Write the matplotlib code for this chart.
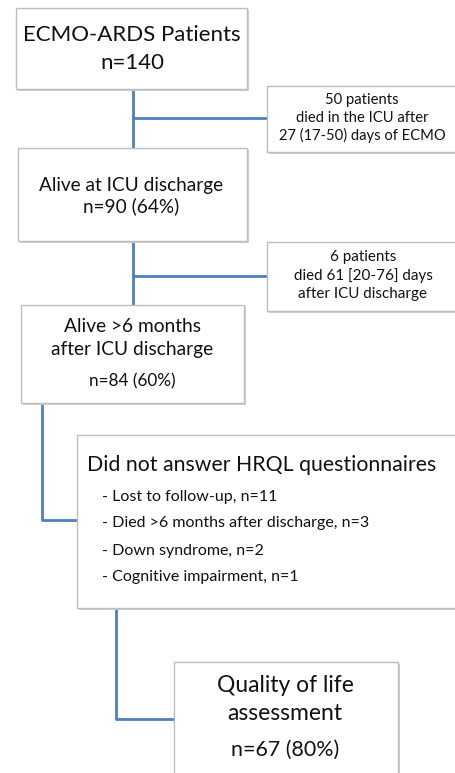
import matplotlib
matplotlib.use("Agg")
import matplotlib.pyplot as plt
from matplotlib.patches import Rectangle

plt.rcParams['font.family'] = ['Lato', 'DejaVu Sans']

# ---- content ----
box1_lines = ["ECMO-ARDS Patients", "n=140"]
side1_lines = ["50 patients", "died in the ICU after", "27 (17-50) days of ECMO"]
box2_lines = ["Alive at ICU discharge", "n=90 (64%)"]
side2_lines = ["6 patients", "died 61 [20-76] days", "after ICU discharge"]
box3_lines = ["Alive >6 months", "after ICU discharge", "n=84 (60%)"]
box4_title = "Did not answer HRQL questionnaires"
box4_items = ["- Lost to follow-up, n=11",
              "- Died >6 months after discharge, n=3",
              "- Down syndrome, n=2",
              "- Cognitive impairment, n=1"]
box5_lines = ["Quality of life", "assessment", "n=67 (80%)"]

W, H = 455, 773
fig = plt.figure(figsize=(W / 100, H / 100), dpi=100)
ax = fig.add_axes([0, 0, 1, 1])
ax.set_xlim(0, W)
ax.set_ylim(H, 0)
ax.axis('off')

LINE = '#4f7fbf'
EDGE = '#bdbdbd'
TXT = '#111111'


def box(x0, y0, x1, y1):
    # shadow
    ax.add_patch(Rectangle((x0 + 1.5, y0 + 1.5), x1 - x0, y1 - y0,
                           facecolor='#d0d0d0', edgecolor='none', zorder=2))
    ax.add_patch(Rectangle((x0, y0), x1 - x0, y1 - y0,
                           facecolor='white', edgecolor=EDGE, lw=1.0, zorder=3))


def line(xs, ys):
    ax.plot(xs, ys, color=LINE, lw=2.0, solid_capstyle='butt', zorder=1)


# connectors
line([133, 133], [89, 148])
line([133, 267], [118, 118])
line([133, 133], [241, 305])
line([133, 267], [276, 276])
line([42, 42, 77], [403, 520, 520])
line([116, 116, 174], [608, 719, 719])

# boxes
box(16, 8, 247, 89)
box(267, 86, 460, 152)
box(18, 148, 247, 241)
box(267, 242, 460, 311)
box(21, 305, 244, 403)
box(77, 435, 460, 608)
box(174, 662, 398, 790)


def lines_at(x, ys, texts, sizes, ha='center'):
    if not isinstance(sizes, (list, tuple)):
        sizes = [sizes] * len(texts)
    for y, t, s in zip(ys, texts, sizes):
        ax.text(x, y, t, ha=ha, va='center', fontsize=s, color=TXT, zorder=4)


lines_at(132, [35, 63], box1_lines, 16)
lines_at(362, [100, 118, 135], side1_lines, 10.6)
lines_at(131, [185, 206], box2_lines, 13.7)
lines_at(363, [257, 276, 294], side2_lines, 10.9)
lines_at(132, [327, 350, 381], box3_lines, [13.8, 13.8, 12.3])
ax.text(87, 465, box4_title, ha='left', va='center', fontsize=15.3, color=TXT, zorder=4)
lines_at(102, [497, 523, 551, 577], box4_items, 11.5, ha='left')
lines_at(285, [685, 713, 750], box5_lines, [16.5, 16.5, 15.4])

fig.savefig('out.png', dpi=100, facecolor='white')
